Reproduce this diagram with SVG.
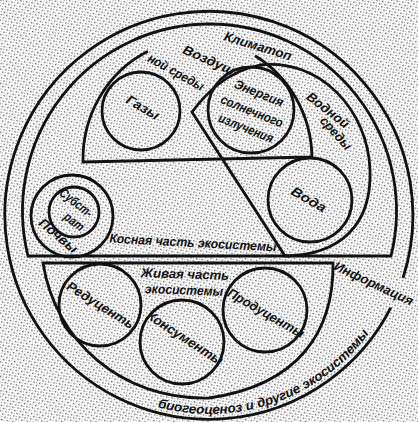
<svg xmlns="http://www.w3.org/2000/svg" width="418" height="422" viewBox="0 0 418 422">
<defs>
<pattern id="dots" width="4" height="4" patternUnits="userSpaceOnUse" patternTransform="rotate(-35)">
<rect width="4" height="4" fill="#ffffff"/>
<rect x="0" y="0" width="1.4" height="1.4" fill="#5e5e5e"/>
<rect x="2" y="2" width="1" height="1" fill="#a0a0a0"/>
</pattern>
<path id="bioArc" d="M 157.5,407.2 A 199,199 0 0,0 375.9,323.4"/>
</defs>
<style>
.ln{fill:none;stroke:#111;stroke-width:2.8}
.t{font-family:"Liberation Sans Narrow","Liberation Sans",Arial,sans-serif;font-style:italic;font-weight:bold;font-size:13px;fill:#111;text-anchor:middle}
</style>
<rect width="418" height="422" fill="url(#dots)"/>
<g id="connectors">
<path class="ln" d="M 390.8,307.6 A 204,204 0 1,1 403.0,278.0"/>
</g>
<g id="outer-ring">
<text class="t" font-size="14" style="text-anchor:start"><textPath href="#bioArc" textLength="238" lengthAdjust="spacingAndGlyphs">биогеоценоз и другие экосистемы</textPath></text>
</g>
<g id="informaciya">
<text class="t" font-size="14" transform="translate(374,283) rotate(25)" dy="5" textLength="86" lengthAdjust="spacingAndGlyphs">Информация</text>
</g>
<g id="kosnaya">
<path class="ln" d="M 28,256 A 187,187 0 1,1 391,256 Z"/>
<text class="t" font-size="14" transform="translate(193,242) rotate(3)" dy="5" textLength="167" lengthAdjust="spacingAndGlyphs">Косная часть экосистемы</text>
<text class="t" transform="translate(258,46) rotate(17)" dy="4.5" textLength="70" lengthAdjust="spacingAndGlyphs">Климатоп</text>
</g>
<g id="vozdushnaya">
<path class="ln" d="M 312,157 L 83,162 A 114.5,120 0 0,1 148,51.3 M 255,55.7 A 114.5,120 0 0,1 312,157"/>
<text class="t" transform="translate(211,61) rotate(24)" dy="4.5" textLength="60" lengthAdjust="spacingAndGlyphs">Воздуш-</text>
<text class="t" transform="translate(176,72) rotate(29)" dy="4.5" textLength="62" lengthAdjust="spacingAndGlyphs">ной среды</text>
</g>
<g id="vodnaya">
<path class="ln" d="M 192,112 C 205,95 225,72 260,65 C 320,58 368,110 370,170 C 372,225 340,255 285,256 Z"/>
<text class="t" transform="translate(328,110) rotate(38)" dy="4.5" textLength="50" lengthAdjust="spacingAndGlyphs">Водной</text>
<text class="t" transform="translate(336,133) rotate(48)" dy="4.5" textLength="40" lengthAdjust="spacingAndGlyphs">среды</text>
</g>
<g id="gazy">
<circle class="ln" cx="141" cy="111" r="39"/>
<text class="t" font-size="14" transform="translate(143,107) rotate(30)" dy="5" textLength="36" lengthAdjust="spacingAndGlyphs">Газы</text>
</g>
<g id="energiya">
<circle class="ln" cx="251" cy="110" r="43"/>
<text class="t" transform="translate(259,93) rotate(22)" dy="4.5" textLength="52" lengthAdjust="spacingAndGlyphs">Энергия</text>
<text class="t" transform="translate(252,111) rotate(22)" dy="4.5" textLength="66" lengthAdjust="spacingAndGlyphs">солнечного</text>
<text class="t" transform="translate(246,128) rotate(22)" dy="4.5" textLength="58" lengthAdjust="spacingAndGlyphs">излучения</text>
</g>
<g id="voda">
<circle class="ln" cx="310" cy="200" r="42"/>
<text class="t" font-size="14" transform="translate(309,199) rotate(30)" dy="5" textLength="38" lengthAdjust="spacingAndGlyphs">Вода</text>
</g>
<g id="pochva">
<circle class="ln" cx="72" cy="216" r="41"/>
<text class="t" font-size="12" transform="translate(58,236) rotate(40)" dy="4" textLength="46" lengthAdjust="spacingAndGlyphs">Почвы</text>
</g>
<g id="substrat">
<circle class="ln" cx="74" cy="212" r="25"/>
<text class="t" font-size="12" transform="translate(76,203) rotate(38)" dy="4" textLength="38" lengthAdjust="spacingAndGlyphs">Субст-</text>
<text class="t" font-size="12" transform="translate(74,222) rotate(38)" dy="4" textLength="22" lengthAdjust="spacingAndGlyphs">рат</text>
</g>
<g id="zhivaya">
<path class="ln" d="M 43,263 L 333,263 C 334,330 300,385 209,398 C 120,400 55,340 43,263 Z"/>
<text class="t" transform="translate(185,274) rotate(2)" dy="4.5" textLength="88" lengthAdjust="spacingAndGlyphs">Живая часть</text>
<text class="t" transform="translate(184,290) rotate(2)" dy="4.5" textLength="78" lengthAdjust="spacingAndGlyphs">экосистемы</text>
</g>
<g id="reducenty">
<circle class="ln" cx="100" cy="305" r="41"/>
<text class="t" transform="translate(102,306) rotate(32)" dy="4.5" textLength="80" lengthAdjust="spacingAndGlyphs">Редуценты</text>
</g>
<g id="konsumenty">
<circle class="ln" cx="182" cy="342" r="42"/>
<text class="t" transform="translate(185,338) rotate(33)" dy="4.5" textLength="88" lengthAdjust="spacingAndGlyphs">Консументы</text>
</g>
<g id="producenty">
<circle class="ln" cx="265" cy="310" r="42"/>
<text class="t" transform="translate(266,313) rotate(30)" dy="4.5" textLength="86" lengthAdjust="spacingAndGlyphs">Продуценты</text>
</g>
</svg>
